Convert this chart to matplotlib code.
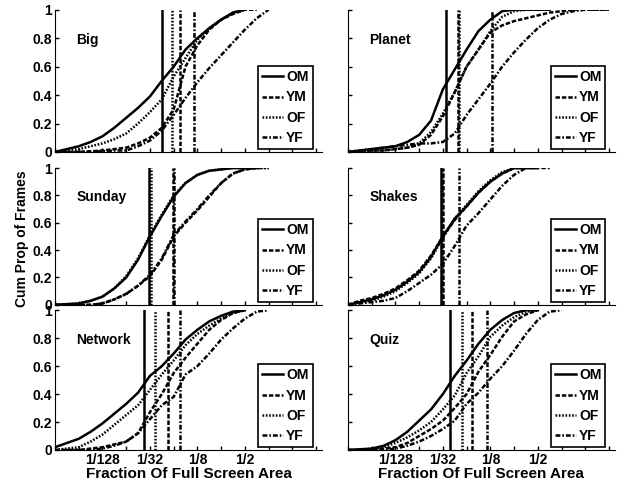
import numpy as np
import matplotlib.pyplot as plt

plt.rcParams['font.family'] = ['Liberation Sans', 'DejaVu Sans']
plt.rcParams['font.weight'] = 'bold'
plt.rcParams['lines.scale_dashes'] = False

nan = np.nan

# log2 of fraction of full screen area (sample points of the curves)
log2_area = [-9, -8.5, -8, -7.5, -7, -6.5, -6, -5.5, -5, -4.5, -4, -3.5,
             -3, -2.5, -2, -1.5, -1, -0.5, 0, 0.5, 1, 1.5, 2]

groups = ['OM', 'YM', 'OF', 'YF']
clips = ['Big', 'Planet', 'Sunday', 'Shakes', 'Network', 'Quiz']

# cumulative proportion of frames, per clip and group
big_om = [0, .02, .04, .07, .11, .17, .24, .31, .39, .50, .60, .72, .80, .87, .93, .98, 1, nan, nan, nan, nan, nan, nan]
big_ym = [0, 0, 0, .005, .01, .02, .03, .06, .10, .17, .30, .60, .75, .86, .93, .97, 1, 1, nan, nan, nan, nan, nan]
big_of = [0, .01, .02, .04, .06, .09, .13, .20, .28, .37, .53, .66, .79, .87, .93, .98, 1, nan, nan, nan, nan, nan, nan]
big_yf = [0, 0, 0, 0, .005, .01, .01, .04, .08, .15, .26, .38, .49, .59, .68, .77, .86, .94, 1, nan, nan, nan, nan]

planet_om = [0, .01, .02, .03, .04, .07, .12, .22, .44, .58, .72, .85, .93, .99, 1, 1, 1, 1, nan, nan, nan, nan, nan]
planet_ym = [0, 0, .01, .01, .02, .03, .05, .12, .25, .42, .60, .72, .84, .89, .92, .94, .96, .98, .99, 1, 1, 1, 1]
planet_of = [0, 0, .01, .01, .02, .03, .06, .14, .27, .42, .60, .72, .85, .95, .99, 1, nan, nan, nan, nan, nan, nan, nan]
planet_yf = [0, .01, .02, .03, .04, .05, .06, .06, .07, .13, .26, .37, .48, .60, .70, .79, .87, .93, .97, .99, 1, 1, 1]

sunday_om = [0, .005, .01, .03, .06, .12, .20, .33, .50, .65, .79, .89, .95, .98, .99, 1, 1, 1, nan, nan, nan, nan, nan]
sunday_ym = [0, 0, 0, 0, .01, .04, .08, .14, .21, .33, .50, .60, .69, .79, .89, .96, .99, 1, nan, nan, nan, nan, nan]
sunday_of = [0, .005, .01, .03, .06, .12, .21, .34, .51, .66, .80, .89, .95, .98, .99, 1, 1, 1, 1, nan, nan, nan, nan]
sunday_yf = [0, 0, 0, 0, .01, .04, .08, .14, .22, .34, .51, .61, .70, .80, .89, .96, .99, 1, 1, nan, nan, nan, nan]

shakes_om = [0, .02, .04, .07, .11, .17, .24, .35, .50, .63, .72, .82, .90, .96, 1, 1, 1, nan, nan, nan, nan, nan, nan]
shakes_ym = [0, .03, .05, .08, .12, .18, .25, .36, .50, .62, .72, .82, .90, .96, 1, 1, 1, 1, nan, nan, nan, nan, nan]
shakes_of = [0, .02, .03, .06, .10, .16, .23, .34, .49, .63, .73, .83, .91, .97, 1, 1, nan, nan, nan, nan, nan, nan, nan]
shakes_yf = [0, .01, .02, .03, .05, .10, .16, .22, .30, .43, .58, .67, .77, .87, .95, 1, 1, nan, nan, nan, nan, nan, nan]

network_om = [.02, .05, .08, .13, .19, .26, .33, .41, .53, .60, .69, .79, .86, .92, .96, .99, 1, nan, nan, nan, nan, nan, nan]
network_ym = [0, 0, 0, .01, .02, .04, .06, .12, .27, .40, .55, .66, .76, .86, .93, .98, 1, nan, nan, nan, nan, nan, nan]
network_of = [0, .01, .02, .06, .11, .18, .25, .32, .43, .54, .64, .75, .83, .89, .94, .98, 1, nan, nan, nan, nan, nan, nan]
network_yf = [0, 0, 0, 0, .01, .03, .06, .12, .22, .32, .38, .54, .60, .69, .79, .87, .94, .99, 1, nan, nan, nan, nan]

quiz_om = [0, .005, .01, .03, .07, .13, .21, .29, .40, .53, .64, .76, .86, .93, .98, 1, 1, nan, nan, nan, nan, nan, nan]
quiz_ym = [0, 0, 0, .01, .02, .05, .10, .15, .21, .30, .40, .56, .68, .81, .92, .97, 1, nan, nan, nan, nan, nan, nan]
quiz_of = [0, 0, .01, .02, .05, .09, .14, .20, .29, .39, .55, .67, .81, .89, .95, .99, 1, nan, nan, nan, nan, nan, nan]
quiz_yf = [0, 0, 0, 0, .01, .03, .06, .10, .15, .21, .33, .41, .51, .60, .71, .83, .93, .99, 1, nan, nan, nan, nan]

# medians (log2 of area), order OM, YM, OF, YF
big_med = [-4.49, -3.73, -4.07, -3.13]
planet_med = [-4.85, -4.36, -4.30, -2.94]
sunday_med = [-5.02, -4.02, -4.97, -3.98]
shakes_med = [-5.06, -4.98, -5.02, -4.31]
network_med = [-5.24, -4.25, -4.78, -3.73]
quiz_med = [-4.68, -3.78, -4.19, -3.15]

curves = [[big_om, big_ym, big_of, big_yf],
          [planet_om, planet_ym, planet_of, planet_yf],
          [sunday_om, sunday_ym, sunday_of, sunday_yf],
          [shakes_om, shakes_ym, shakes_of, shakes_yf],
          [network_om, network_ym, network_of, network_yf],
          [quiz_om, quiz_ym, quiz_of, quiz_yf]]
medians = [big_med, planet_med, sunday_med, shakes_med, network_med, quiz_med]

styles = ['-', (0, (3.2, 1.4)), (0, (1.2, 1.2)), (0, (3.5, 1.4, 1.2, 1.4))]

tick_pow = list(range(-9, 3))
tick_lab = {-7: '1/128', -5: '1/32', -3: '1/8', -1: '1/2'}

fig = plt.figure(figsize=(6.18, 4.87), dpi=100)
col_x = [0.089, 0.563]
row_y = [(0.688, 0.292), (0.374, 0.281), (0.076, 0.287)]

x = 2.0 ** np.array(log2_area)
for i, clip in enumerate(clips):
    r, c = divmod(i, 2)
    ax = fig.add_axes([col_x[c], row_y[r][0], 0.432, row_y[r][1]])
    for g in range(4):
        ax.plot(x, curves[i][g], color='k', lw=1.8, ls=styles[g], label=groups[g])
    for g in range(4):
        ax.plot([2.0 ** medians[i][g]] * 2, [0, 1], color='k', lw=1.8, ls=styles[g])
    ax.set_xscale('log', base=2)
    ax.set_xlim(2.0 ** -9, 2.0 ** 2.25)
    ax.set_ylim(0, 1)
    ax.set_xticks([2.0 ** p for p in tick_pow])
    ax.xaxis.set_minor_locator(plt.NullLocator())
    if r == 2:
        ax.set_xticklabels([tick_lab.get(p, '') for p in tick_pow], fontsize=10, fontweight='bold')
        ax.set_xlabel('Fraction Of Full Screen Area', fontsize=11, fontweight='bold', labelpad=0)
    else:
        ax.set_xticklabels([])
    ax.set_yticks([0, 0.2, 0.4, 0.6, 0.8, 1])
    if c == 0:
        ax.set_yticklabels(['0', '0.2', '0.4', '0.6', '0.8', '1'], fontsize=10, fontweight='bold')
    else:
        ax.set_yticklabels([])
    ax.tick_params(direction='in', length=3, width=1, pad=2)
    ax.spines['top'].set_visible(False)
    ax.spines['right'].set_visible(False)
    ax.patch.set_alpha(0)
    ax.text(0.08, 0.79, clip, transform=ax.transAxes, fontsize=10, fontweight='bold', va='center')
    leg = ax.legend(loc='lower right', bbox_to_anchor=(0.975, 0.0), fancybox=False, framealpha=1,
                    edgecolor='k', fontsize=10, handlelength=1.5, handletextpad=0.2,
                    borderpad=0.3, labelspacing=0.45, borderaxespad=0.2,
                    prop={'weight': 'bold', 'size': 10})
    leg.get_frame().set_linewidth(1.2)

fig.text(0.036, 0.51, 'Cum Prop of Frames', rotation=90, fontsize=10, fontweight='bold',
         ha='center', va='center')

fig.savefig('out.png', dpi=100)
